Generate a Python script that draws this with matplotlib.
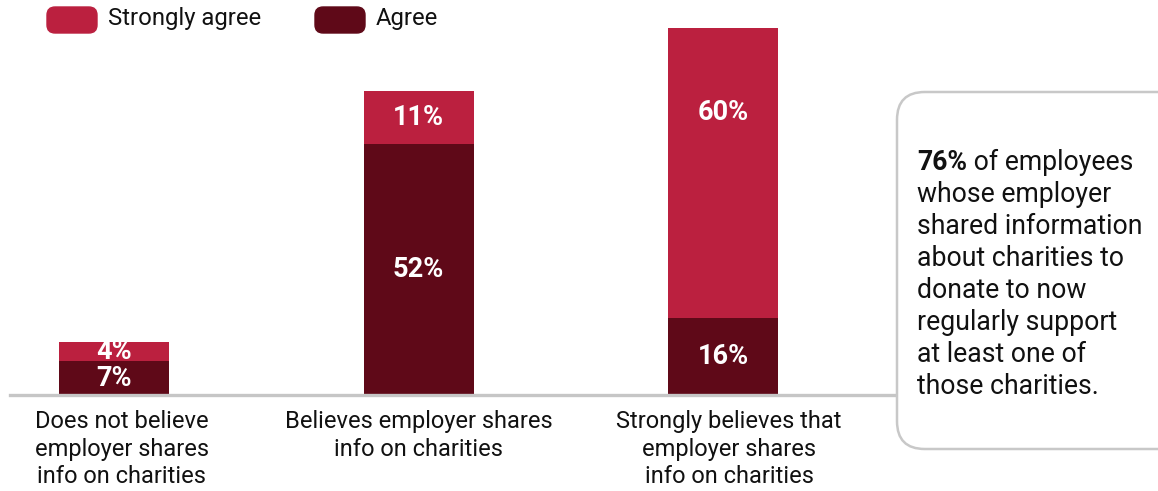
import matplotlib.pyplot as plt
from matplotlib.patches import FancyBboxPatch
from matplotlib.text import Annotation

plt.rcParams['font.family'] = ['Roboto', 'DejaVu Sans']

categories = ["Does not believe\nemployer shares\ninfo on charities",
              "Believes employer shares\ninfo on charities",
              "Strongly believes that\nemployer shares\ninfo on charities"]
agree = [7, 52, 16]
strongly_agree = [4, 11, 60]

RED = '#BB203F'
DARK = '#5F0918'
GREY = '#C6C6C6'
INK = '#111111'

W, H = 1158, 491
fig = plt.figure(figsize=(W / 100, H / 100), dpi=100)

# axes placed in pixel terms: baseline at y=395, ~4.83 px per percent
px_per_unit = 304.5
left_px, right_px = 10, 897
ax = fig.add_axes([left_px / W, 96 / H, (right_px - left_px) / W, 80 * 4.83 / H])
ax.set_xlim((left_px - 114) / px_per_unit, (right_px - 114) / px_per_unit)
ax.set_ylim(0, 80)

x = range(len(categories))
bw = 110 / px_per_unit
ax.bar(x, agree, width=bw, color=DARK, zorder=2)
ax.bar(x, strongly_agree, width=bw, bottom=agree, color=RED, zorder=2)

for i in x:
    ax.text(i, agree[i] / 2, f"{agree[i]}%", ha='center', va='center',
            color='white', fontsize=19.5, fontweight='bold', zorder=3)
    y = agree[i] + strongly_agree[i] / 2
    if strongly_agree[i] > 40:
        # big segment: keep the label near the top
        y = agree[i] + strongly_agree[i] - 17.6
    ax.text(i, y, f"{strongly_agree[i]}%", ha='center', va='center',
            color='white', fontsize=19.5, fontweight='bold', zorder=3)

for s in ['top', 'right', 'left']:
    ax.spines[s].set_visible(False)
ax.spines['bottom'].set_color(GREY)
ax.spines['bottom'].set_linewidth(2.4)
ax.set_yticks([])
ax.set_xticks([])

# category names sit a little right of the bar centres on the outer bars
label_dx = [0.025, 0.0, 0.02]
for i in x:
    ax.annotate(categories[i], xy=(i + label_dx[i], 0), xytext=(0, -11),
                textcoords='offset points', ha='center', va='top',
                fontsize=17, color=INK, linespacing=1.24,
                annotation_clip=False)

# legend drawn by hand
for lx, label, col in [(47, "Strongly agree", RED), (315, "Agree", DARK)]:
    fig.patches.append(FancyBboxPatch((lx / W, (H - 33) / H), 50 / W, 26 / H,
                                      boxstyle="round,pad=0,rounding_size=0.007",
                                      transform=fig.transFigure, color=col,
                                      mutation_aspect=W / H))
    fig.text((lx + 61) / W, (H - 19) / H, label, fontsize=17.2, va='center',
             color=INK)

# callout box on the right
fig.patches.append(FancyBboxPatch((897 / W, (H - 449) / H), 290 / W, 357 / H,
                                  boxstyle="round,pad=0,rounding_size=0.024",
                                  transform=fig.transFigure, facecolor='white',
                                  edgecolor='#C8C8C8', linewidth=1.8,
                                  mutation_aspect=W / H))

lines = ["whose employer", "shared information", "about charities to",
         "donate to now", "regularly support", "at least one of",
         "those charities."]
tx = 917 / W
t0 = fig.text(tx, (H - 162) / H, "76%", fontsize=19.2, fontweight='bold',
              va='center', color=INK, zorder=5)
fig.add_artist(Annotation(" of employees", xy=(1, 0.5), xycoords=t0,
                          va='center', fontsize=19.2, color=INK, zorder=5))
for k, line in enumerate(lines):
    fig.text(tx, (H - 162 - 32.1 * (k + 1)) / H, line, fontsize=19.2,
             va='center', color=INK, zorder=5)

fig.savefig('out.png', dpi=100)
